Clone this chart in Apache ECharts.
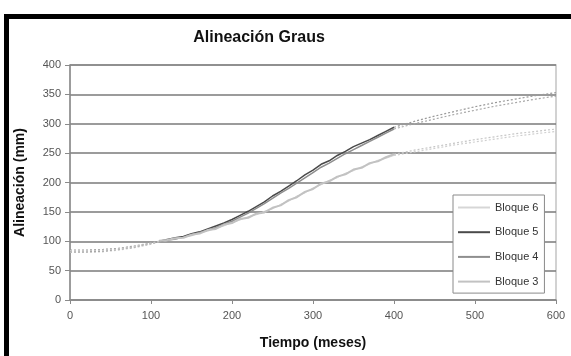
<!DOCTYPE html>
<html>
<head>
    <meta charset="UTF-8">
    <title>Alineación Graus</title>
    <script src="https://cdn.jsdelivr.net/npm/echarts@6.0.0/dist/echarts.min.js"></script>
    <style>
        html, body { margin: 0; padding: 0; background: #fff; }
        #chart { width: 571px; height: 356px; }
    </style>
</head>
<body>
    <div id="chart"></div>
    <script>
        // tiempo (meses) de los tramos medidos
        const measuredX = [110, 120, 130, 140, 150, 160, 170, 180, 190, 200, 210, 220, 230, 240, 250,
                           260, 270, 280, 290, 300, 310, 320, 330, 340, 350, 360, 370, 380, 390, 400];
        const bloque6 = [99, 101, 103, 107, 109, 114, 117, 122, 126, 132, 136, 142, 145, 151, 155,
                         163, 168, 177, 182, 191, 196, 204, 208, 216, 220, 227, 231, 238, 241, 246];
        const bloque5 = [100, 103, 106, 108, 113, 116, 121, 126, 131, 137, 144, 151, 159, 167, 177,
                         185, 194, 203, 213, 221, 231, 237, 246, 253, 261, 267, 273, 280, 287, 294];
        const bloque4 = [99, 102, 104, 107, 111, 115, 119, 123, 129, 134, 141, 148, 156, 164, 173,
                         182, 190, 199, 208, 217, 226, 233, 241, 249, 256, 263, 270, 277, 284, 291];
        const bloque3 = [101, 102, 105, 106, 111, 113, 119, 121, 128, 131, 138, 140, 147, 149, 157,
                         161, 170, 175, 184, 189, 198, 202, 210, 214, 222, 225, 233, 236, 243, 248];

        // ajustes (línea de puntos) antes y después de los datos medidos
        const fitHeadX = [0, 20, 40, 60, 80, 100, 110];
        const fitTailX = [400, 425, 450, 475, 500, 525, 550, 575, 600];
        const fit6Head = [81, 81, 82, 85, 89, 95, 99];
        const fit6Tail = [246, 252, 258, 264, 269, 274, 279, 283, 287];
        const fit5Head = [85, 85, 86, 88, 92, 97, 100];
        const fit5Tail = [294, 304, 313, 321, 329, 336, 342, 348, 353];
        const fit4Head = [82, 82, 83, 86, 90, 96, 99];
        const fit4Tail = [291, 300, 308, 316, 323, 330, 336, 342, 347];
        const fit3Head = [84, 84, 85, 87, 91, 97, 100];
        const fit3Tail = [248, 255, 261, 267, 273, 278, 283, 287, 291];

        const names = ['Bloque 6', 'Bloque 5', 'Bloque 4', 'Bloque 3'];
        const colors = ['#d6d6d6', '#4a4a4a', '#8e8e8e', '#c2c2c2'];
        const widths = [1, 1.5, 1.5, 2];
        const fitColors = ['#cfcfcf', '#9a9a9a', '#a8a8a8', '#c6c6c6'];

        const zip = (xs, ys) => xs.map((x, i) => [x, ys[i]]);
        const withGap = (hx, hy, tx, ty) => zip(hx, hy).concat([[null, null]], zip(tx, ty));

        const measured = [bloque6, bloque5, bloque4, bloque3];
        const fits = [
            withGap(fitHeadX, fit6Head, fitTailX, fit6Tail),
            withGap(fitHeadX, fit5Head, fitTailX, fit5Tail),
            withGap(fitHeadX, fit4Head, fitTailX, fit4Tail),
            withGap(fitHeadX, fit3Head, fitTailX, fit3Tail)
        ];

        const series = [];
        names.forEach((name, i) => {
            series.push({
                name: 'ajuste ' + name,
                type: 'line',
                data: fits[i],
                symbol: 'none',
                silent: true,
                connectNulls: false,
                lineStyle: { color: fitColors[i], width: 1.2, type: [2, 2] },
                z: 2
            });
        });
        names.forEach((name, i) => {
            series.push({
                name: name,
                type: 'line',
                data: zip(measuredX, measured[i]),
                symbol: 'none',
                itemStyle: { color: colors[i] },
                lineStyle: { color: colors[i], width: widths[i] },
                z: 3
            });
        });

        const chart = echarts.init(document.getElementById('chart'), null, { renderer: 'canvas' });
        const font = '"Liberation Sans", Arial, sans-serif';

        chart.setOption({
            animation: false,
            textStyle: { fontFamily: font },
            title: {
                text: 'Alineación Graus',
                left: 254,
                top: 25,
                textAlign: 'center',
                textStyle: { fontSize: 16, fontWeight: 'bold', color: '#111', fontFamily: font }
            },
            graphic: [{
                type: 'rect',
                shape: { x: 6.5, y: 16.5, width: 620, height: 400 },
                style: { fill: 'none', stroke: '#000', lineWidth: 5 },
                silent: true
            }],
            grid: {
                left: 70, right: 15, top: 65, bottom: 56,
                show: true, borderColor: '#c4c4c4', borderWidth: 1.5,
                containLabel: false
            },
            legend: {
                data: names.map((n, i) => ({ name: n, icon: 'rect', itemStyle: { color: colors[i] } })),
                orient: 'vertical',
                left: 453,
                top: 195,
                width: 95,
                padding: [7, 6, 6, 5],
                itemWidth: 32,
                itemHeight: widths[1] + 0.5,
                itemGap: 13.7,
                backgroundColor: '#fff',
                borderColor: '#8a8a8a',
                borderWidth: 1,
                textStyle: { fontSize: 11, color: '#333', fontFamily: font }
            },
            xAxis: {
                type: 'value',
                min: 0, max: 600, interval: 100,
                name: 'Tiempo (meses)',
                nameLocation: 'middle',
                nameGap: 36,
                nameTextStyle: { fontSize: 14, fontWeight: 'bold', color: '#111' },
                axisLine: { show: true, lineStyle: { color: '#8a8a8a', width: 1.5 } },
                axisTick: { show: true, length: 4, lineStyle: { color: '#8a8a8a' } },
                axisLabel: { fontSize: 11, color: '#555', margin: 10 },
                splitLine: { show: false }
            },
            yAxis: {
                type: 'value',
                min: 0, max: 400, interval: 50,
                name: 'Alineación (mm)',
                nameLocation: 'middle',
                nameGap: 43,
                nameRotate: 90,
                nameTextStyle: { fontSize: 14, fontWeight: 'bold', color: '#111' },
                axisLine: { show: true, lineStyle: { color: '#8a8a8a', width: 1.5 } },
                axisTick: { show: true, length: 5, lineStyle: { color: '#8a8a8a' } },
                axisLabel: { fontSize: 11, color: '#555', margin: 9 },
                splitLine: { show: true, lineStyle: { color: '#7a7a7a', width: 1.5 } }
            },
            series: series
        });
    </script>
</body>
</html>
